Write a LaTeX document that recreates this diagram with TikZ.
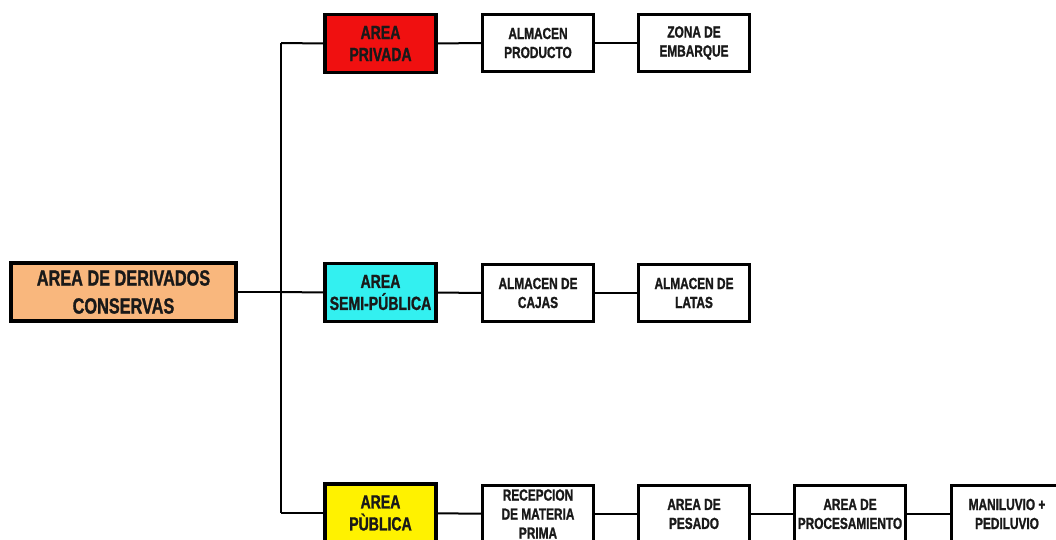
\documentclass[tikz,border=0pt]{standalone}
\usepackage{fontspec}
\setmainfont{Liberation Sans}[FakeStretch=0.74,BoldFeatures={FakeBold=1.2}]
\begin{document}
\begin{tikzpicture}[x=1pt,y=1pt,
  base/.style={draw=black,align=center,inner sep=1pt,font=\bfseries,text=black!90},
  mainbox/.style={base,line width=4pt,fill=mainfill,minimum width=225pt,minimum height=58pt,font=\bfseries\fontsize{22}{28}\selectfont},
  areabox/.style={base,line width=3.5pt,minimum width=111pt,minimum height=58pt,font=\bfseries\fontsize{19}{22}\selectfont},
  subbox/.style={base,line width=2.2pt,fill=white,minimum width=111pt,minimum height=57pt,font=\bfseries\fontsize{16}{19}\selectfont},
  conn/.style={line width=2pt,draw=black}]
\definecolor{mainfill}{HTML}{F9B77D}
\definecolor{redfill}{HTML}{F01010}
\definecolor{cyanfill}{HTML}{33F0F0}
\definecolor{yellowfill}{HTML}{FFF200}
\useasboundingbox (0,0) rectangle (1056,-540);
\clip (0,0) rectangle (1056,-540);
\fill[white] (0,0) rectangle (1056,-540);
% trunk coordinates
\coordinate (jmain) at (281,-292);
\coordinate (jtop) at (281,-43);
\coordinate (jbot) at (281,-513);
% main
\node[mainbox] (main) at (123.5,-292) {AREA DE DERIVADOS\\CONSERVAS};
% area boxes
\node[areabox,fill=redfill] (priv) at (380.5,-43.5) {AREA\\PRIVADA};
\node[areabox,fill=cyanfill] (semi) at (380.5,-292.5) {AREA\\SEMI-PÚBLICA};
\node[areabox,fill=yellowfill] (pub) at (380.5,-513) {AREA\\PÙBLICA};
% sub boxes
\node[subbox] (ap) at (538,-43) {ALMACEN\\PRODUCTO};
\node[subbox] (ze) at (694,-43) {ZONA DE\\EMBARQUE};
\node[subbox] (ac) at (538,-293) {ALMACEN DE\\CAJAS};
\node[subbox] (al) at (694,-293) {ALMACEN DE\\LATAS};
\node[subbox,inner sep=0pt] (rm) at (538,-514) {RECEPCION\\DE MATERIA\\PRIMA};
\node[subbox] (pe) at (694,-514) {AREA DE\\PESADO};
\node[subbox] (pr) at (850,-514) {AREA DE\\PROCESAMIENTO};
\node[subbox] (mp) at (1007,-514) {MANILUVIO +\\PEDILUVIO};
% connectors
\draw[conn] (main.east) -- (jmain);
\draw[conn] (jtop) -- (jbot);
\draw[conn] (jtop) -- (priv.west);
\draw[conn] (jmain) -- (semi.west);
\draw[conn] (jbot) -- (pub.west);
\draw[conn] (priv) -- (ap);
\draw[conn] (ap) -- (ze);
\draw[conn] (semi) -- (ac);
\draw[conn] (ac) -- (al);
\draw[conn] (pub) -- (rm);
\draw[conn] (rm) -- (pe);
\draw[conn] (pe) -- (pr);
\draw[conn] (pr) -- (mp);
\end{tikzpicture}
\end{document}
